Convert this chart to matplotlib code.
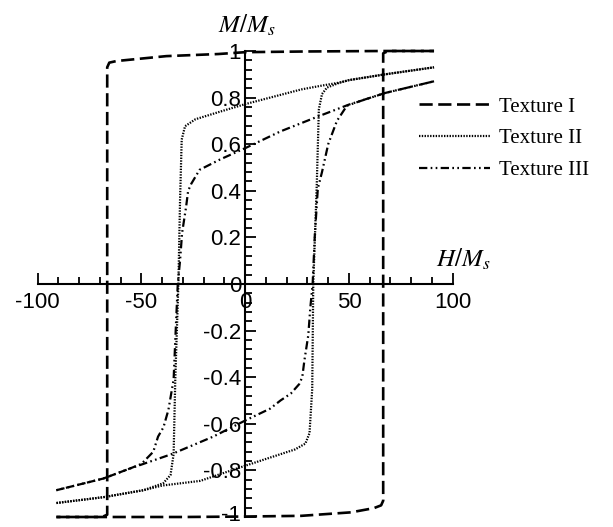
import matplotlib
matplotlib.use("Agg")
import matplotlib.pyplot as plt
from matplotlib.ticker import MultipleLocator, FixedLocator, FixedFormatter
from matplotlib.transforms import ScaledTranslation

plt.rcParams['lines.scale_dashes'] = False
plt.rcParams['mathtext.fontset'] = 'stix'

# ---- hysteresis loops (H/Ms, M/Ms); "dn" = descending branch, "up" = ascending branch
tex1_dn_h = [91, 67, 30, 0, -13, -38, -62, -65.5, -66.5, -66.5, -69, -91]
tex1_dn_m = [1.0, 1.0, 0.998, 0.995, 0.987, 0.978, 0.957, 0.95, 0.93, -0.99, -1.0, -1.0]
tex1_up_h = [-91, -67, -30, 0, 27, 51, 62, 65.5, 66.5, 66.5, 69, 91]
tex1_up_m = [-1.0, -1.0, -1.0, -0.998, -0.995, -0.98, -0.962, -0.95, -0.93, 0.99, 1.0, 1.0]

tex2_dn_h = [91, 67.5, 50, 45.8, 36, 27, 0, -12, -24, -29, -30.6, -31.4, -32.2, -33.7, -34.5, -36, -39.5, -49, -68.4, -91]
tex2_dn_m = [0.93, 0.90, 0.875, 0.865, 0.85, 0.835, 0.772, 0.74, 0.707, 0.677, 0.62, 0.36, 0.0, -0.41, -0.73, -0.82, -0.855, -0.885, -0.915, -0.94]
tex2_up_h = [-91, -68.4, -49, -40, -21.7, 0, 12, 24, 29, 31, 32.3, 32.8, 34.5, 35.5, 37, 39.4, 45.8, 50, 67.5, 91]
tex2_up_m = [-0.94, -0.915, -0.885, -0.865, -0.845, -0.78, -0.745, -0.71, -0.685, -0.64, -0.45, 0.0, 0.43, 0.75, 0.815, 0.843, 0.865, 0.875, 0.90, 0.93]

tex3_dn_h = [91, 67.5, 50, 35.4, 17, 0, -12, -22, -26, -27.5, -28.5, -30.4, -31.4, -32.5, -33.5, -34.5, -37, -39.4, -42, -44.3, -50, -55, -68.4, -91]
tex3_dn_m = [0.87, 0.82, 0.77, 0.72, 0.655, 0.583, 0.535, 0.49, 0.43, 0.40, 0.33, 0.22, 0.10, 0.0, -0.2, -0.41, -0.54, -0.615, -0.655, -0.72, -0.772, -0.79, -0.835, -0.885]
tex3_up_h = [-91, -68.4, -55, -50, -35.4, -15.4, 0, 12, 17, 22, 26, 27.5, 28.5, 30.4, 31.4, 32.5, 33.5, 35, 37, 40, 44.2, 49, 55.4, 67.5, 91]
tex3_up_m = [-0.885, -0.835, -0.79, -0.775, -0.73, -0.655, -0.586, -0.535, -0.50, -0.47, -0.43, -0.40, -0.33, -0.22, -0.10, 0.0, 0.2, 0.41, 0.48, 0.60, 0.70, 0.765, 0.785, 0.82, 0.87]

labels = ['Texture I', 'Texture II', 'Texture III']

x_ticks = [-100, -50, 0, 50, 100]
x_tick_labels = ['-100', '-50', '0', '50', '100']
y_ticks = [1, 0.8, 0.6, 0.4, 0.2, 0, -0.2, -0.4, -0.6, -0.8, -1]
y_tick_labels = ['1', '0.8', '0.6', '0.4', '0.2', '0', '-0.2', '-0.4', '-0.6', '-0.8', '-1']

W, H = 613, 527
fig = plt.figure(figsize=(W / 100, H / 100), dpi=100)
ax = fig.add_axes([37.7 / W, 1 - 517 / H, (452.7 - 37.7) / W, (517 - 51) / H])
ax.set_xlim(-100, 100)
ax.set_ylim(-1, 1)

styles = [
    dict(lw=1.9, dashes=(9.5, 4.0)),
    dict(lw=1.6, dashes=(1.0, 1.0)),
    dict(lw=1.6, dashes=(6.0, 2.4, 1.2, 2.4, 1.2, 2.4)),
]
series = [
    (tex1_dn_h, tex1_dn_m, tex1_up_h, tex1_up_m),
    (tex2_dn_h, tex2_dn_m, tex2_up_h, tex2_up_m),
    (tex3_dn_h, tex3_dn_m, tex3_up_h, tex3_up_m),
]
handles = []
for (hd, md, hu, mu), st, lab in zip(series, styles, labels):
    ln, = ax.plot(hd, md, color='black', clip_on=False, label=lab, **st)
    ax.plot(hu, mu, color='black', clip_on=False, **st)
    handles.append(ln)

# centred axes
for side in ('top', 'right'):
    ax.spines[side].set_visible(False)
ax.spines['left'].set_position(('data', 0))
ax.spines['bottom'].set_position(('data', 0))
for side in ('left', 'bottom'):
    ax.spines[side].set_linewidth(1.5)

ax.xaxis.set_major_locator(FixedLocator(x_ticks))
ax.xaxis.set_major_formatter(FixedFormatter(x_tick_labels))
ax.xaxis.set_minor_locator(MultipleLocator(10))
ax.yaxis.set_major_locator(FixedLocator(y_ticks))
ax.yaxis.set_major_formatter(FixedFormatter(y_tick_labels))
ax.yaxis.set_minor_locator(MultipleLocator(0.04))

ax.tick_params(axis='both', which='both', direction='in', width=1.3, color='black')
ax.tick_params(axis='both', which='major', length=8)
ax.tick_params(axis='both', which='minor', length=5)
ax.tick_params(axis='x', which='major', pad=6)
ax.tick_params(axis='y', which='major', pad=3)
for lbl in ax.get_xticklabels() + ax.get_yticklabels():
    lbl.set_fontfamily('Liberation Sans')
    lbl.set_fontsize(16)

# keep the lowest y label inside the canvas
fig.canvas.draw()
low = ax.yaxis.get_majorticklabels()[-1]
low.set_transform(low.get_transform() + ScaledTranslation(0, 4 / 100, fig.dpi_scale_trans))

# axis titles
fig.text(218 / W, 1 - 33 / H, r'$M/M_s$', fontsize=18, ha='left', va='baseline')
fig.text(436 / W, 1 - 267 / H, r'$H/M_s$', fontsize=18, ha='left', va='baseline')

leg = fig.legend(handles=handles, labels=labels, loc='upper left',
                 bbox_to_anchor=(419 / W, 1 - 97 / H), frameon=False,
                 borderpad=0, borderaxespad=0, handlelength=3.4, handletextpad=0.45,
                 labelspacing=0.58, prop={'family': 'Liberation Serif', 'size': 15})

fig.savefig('out.png', dpi=100)
